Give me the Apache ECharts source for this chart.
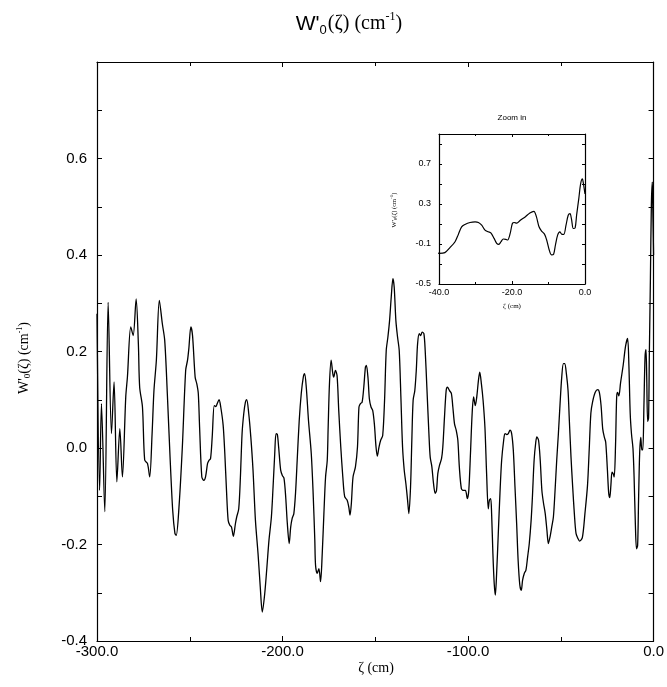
<!DOCTYPE html>
<html>
<head>
<meta charset="utf-8">
<script src="https://cdn.jsdelivr.net/npm/echarts@6/dist/echarts.min.js"></script>
<style>html,body{margin:0;padding:0;background:#fff}#c{width:667px;height:687px}</style>
</head>
<body>
<div id="c"></div>
<script>
// ζ (cm)
const zeta = [
-300.0,-298.6,-297.6,-295.8,-294.0,-292.2,-290.8,-289.3,-287.7,-286.3,-284.5,-283.6,-281.8,-280.5,-278.9,-277.7,-277.0,-275.5,-274.3,-272.8,
-271.6,-270.3,-269.3,-268.0,-266.4,-264.8,-263.5,-262.1,-260.7,-259.2,-258.0,-257.3,-255.8,-254.0,-252.2,-251.2,-250.5,-249.4,-248.5,-247.1,
-246.2,-245.4,-244.7,-243.5,-242.4,-241.5,-240.4,-239.7,-238.8,-237.9,-236.8,-236.0,-235.2,-234.2,-233.3,-232.0,-231.1,-230.2,-229.3,-228.4,
-227.5,-226.5,-225.4,-224.7,-223.6,-222.7,-221.8,-220.9,-220.0,-219.3,-218.2,-217.1,-215.9,-214.6,-213.2,-212.0,-210.9,-209.6,-208.4,-207.3,
-206.0,-205.1,-204.2,-203.5,-202.8,-202.1,-201.0,-200.1,-199.2,-198.3,-197.4,-196.4,-195.6,-194.8,-193.9,-193.0,-192.1,-191.0,-189.9,-188.8,
-188.1,-187.2,-186.0,-184.5,-183.5,-182.6,-182.2,-181.3,-180.4,-179.5,-178.6,-177.7,-176.8,-175.9,-175.4,-174.7,-173.8,-172.9,-172.4,-171.5,
-170.6,-169.7,-168.6,-167.5,-166.5,-165.2,-164.3,-163.6,-162.9,-162.0,-160.7,-159.6,-158.8,-158.0,-157.1,-156.2,-155.3,-154.8,-153.9,-153.2,
-152.3,-151.4,-150.5,-149.6,-148.9,-148.0,-147.1,-146.0,-145.0,-144.1,-143.2,-142.3,-141.4,-140.5,-139.8,-138.9,-138.0,-137.1,-136.2,-135.3,
-134.4,-133.5,-132.6,-131.9,-131.0,-130.3,-129.6,-128.7,-127.9,-127.2,-126.3,-125.6,-124.7,-123.8,-123.1,-122.2,-121.1,-120.4,-119.5,-118.6,
-117.7,-117.0,-116.3,-115.4,-114.3,-113.6,-112.7,-111.8,-111.1,-110.0,-109.0,-108.2,-107.3,-106.4,-105.5,-104.7,-103.6,-102.5,-101.4,-100.4,
-99.6,-98.7,-97.8,-97.0,-96.1,-95.3,-94.4,-93.7,-92.8,-91.9,-90.9,-90.0,-89.1,-88.5,-87.8,-87.3,-86.6,-85.9,-85.3,-84.6,
-83.7,-82.8,-81.9,-80.8,-80.1,-79.2,-78.3,-77.4,-76.5,-75.6,-74.7,-73.8,-73.0,-72.1,-71.3,-70.6,-69.7,-68.8,-67.9,-67.0,
-66.0,-65.3,-64.4,-63.5,-62.9,-62.0,-61.1,-60.2,-59.3,-58.4,-57.5,-56.7,-55.8,-54.9,-54.0,-53.1,-52.2,-51.3,-50.4,-49.5,
-48.6,-47.9,-47.0,-46.1,-45.4,-44.5,-43.6,-42.7,-41.8,-40.7,-39.9,-38.4,-37.0,-35.6,-34.7,-33.8,-32.9,-31.5,-30.1,-29.2,
-28.3,-27.4,-26.5,-25.8,-24.9,-24.2,-23.6,-23.0,-22.4,-21.7,-21.2,-20.5,-19.9,-19.4,-18.7,-17.8,-16.4,-15.1,-14.0,-13.3,
-12.6,-11.9,-11.1,-10.5,-9.8,-9.2,-8.6,-8.1,-7.5,-6.9,-6.3,-5.8,-5.2,-4.6,-4.1,-3.7,-3.2,-2.7,-2.3,-1.7,
-1.2,-0.7,-0.5,0.0
];
// W'0(ζ) (cm^-1)
const w0 = [
0.278,-0.088,0.092,-0.132,0.302,0.030,0.137,-0.070,0.040,-0.060,0.106,0.147,0.251,0.233,0.309,0.216,0.126,0.085,-0.025,-0.032,
-0.060,0.030,0.119,0.182,0.306,0.258,0.223,0.113,-0.012,-0.129,-0.177,-0.181,-0.122,0.002,0.161,0.182,0.206,0.251,0.233,0.147,
0.133,0.113,0.043,-0.060,-0.067,-0.060,-0.032,-0.026,-0.022,0.023,0.088,0.086,0.092,0.100,0.085,0.047,-0.012,-0.088,-0.150,-0.160,
-0.164,-0.183,-0.157,-0.143,-0.126,-0.060,0.030,0.071,0.095,0.100,0.071,0.023,-0.046,-0.150,-0.219,-0.288,-0.340,-0.302,-0.246,-0.191,
-0.143,-0.081,-0.012,0.030,0.028,0.002,-0.046,-0.057,-0.063,-0.101,-0.157,-0.198,-0.164,-0.146,-0.136,-0.094,-0.026,0.057,0.113,0.147,
0.154,0.126,0.057,-0.012,-0.094,-0.191,-0.243,-0.260,-0.250,-0.277,-0.219,-0.136,-0.060,-0.026,0.043,0.133,0.182,0.154,0.147,0.161,
0.150,0.078,0.002,-0.060,-0.101,-0.108,-0.122,-0.139,-0.115,-0.060,-0.039,0.002,0.085,0.092,0.095,0.126,0.168,0.171,0.144,0.102,
0.085,0.078,0.050,0.002,-0.017,0.002,0.016,0.026,0.099,0.202,0.230,0.264,0.313,0.351,0.333,0.264,0.230,0.202,0.106,0.002,
-0.046,-0.074,-0.108,-0.136,-0.081,0.016,0.099,0.119,0.161,0.216,0.237,0.233,0.240,0.237,0.202,0.126,0.030,-0.019,-0.039,-0.074,
-0.094,-0.088,-0.053,-0.036,-0.022,0.002,0.064,0.119,0.126,0.119,0.113,0.085,0.050,0.037,0.016,-0.039,-0.084,-0.088,-0.088,-0.105,
-0.088,-0.012,0.071,0.106,0.088,0.106,0.140,0.157,0.133,0.099,0.043,-0.053,-0.126,-0.108,-0.105,-0.136,-0.219,-0.281,-0.305,-0.260,
-0.177,-0.094,-0.026,0.016,0.030,0.028,0.030,0.037,0.030,-0.005,-0.081,-0.157,-0.233,-0.284,-0.295,-0.274,-0.260,-0.253,-0.226,-0.198,
-0.150,-0.101,-0.026,0.012,0.023,0.016,-0.025,-0.088,-0.115,-0.136,-0.170,-0.198,-0.184,-0.164,-0.143,-0.088,-0.025,0.030,0.092,0.147,
0.175,0.175,0.154,0.119,0.057,-0.019,-0.081,-0.136,-0.177,-0.188,-0.193,-0.186,-0.136,-0.077,-0.004,0.072,0.095,0.115,0.121,0.115,
0.088,0.039,0.022,0.012,-0.044,-0.093,-0.103,-0.077,-0.050,-0.054,-0.060,0.006,0.105,0.115,0.108,0.135,0.171,0.211,0.227,0.171,
0.072,0.029,-0.001,-0.060,-0.160,-0.209,-0.202,-0.110,-0.011,0.022,-0.004,-0.004,0.088,0.188,0.204,0.148,0.055,0.062,0.188,0.353,
0.502,0.551,0.518,0.400
];
// tick values
const mainXTicks = [-300, -200, -100, 0];
const mainYTicks = [-0.4, -0.2, 0.0, 0.2, 0.4, 0.6];
const insetXTicks = [-40, -20, 0];
const insetYTicks = [-0.5, -0.1, 0.3, 0.7];
const insetStart = -40;

const mainData = zeta.map((x, i) => [x, w0[i]]);
const insetData = mainData.filter(d => d[0] >= insetStart - 1);

const BLACK = '#000';
const SANS = 'Liberation Sans, Arial, sans-serif';
const SERIF = 'Liberation Serif, Times New Roman, serif';

function axisX(grid, pos, ticks, labelSize, show, tickLen, margin) {
  return {
    gridIndex: grid, type: 'value', position: pos,
    min: ticks[0], max: ticks[ticks.length - 1], interval: ticks[1] - ticks[0],
    axisLine: { onZero: false, lineStyle: { color: BLACK, width: 1.2 } },
    axisTick: { inside: true, length: tickLen, lineStyle: { color: BLACK, width: 1 } },
    minorTick: { show: true, splitNumber: 2, length: tickLen - 1, lineStyle: { color: BLACK, width: 1 } },
    splitLine: { show: false },
    axisLabel: { show: show, formatter: v => v.toFixed(1), color: BLACK, fontSize: labelSize, fontFamily: SANS, margin: margin }
  };
}
function axisY(grid, pos, ticks, max, labelSize, show, tickLen, margin) {
  return {
    gridIndex: grid, type: 'value', position: pos,
    min: ticks[0], max: max, interval: ticks[1] - ticks[0],
    axisLine: { onZero: false, lineStyle: { color: BLACK, width: 1.2 } },
    axisTick: { inside: true, length: tickLen, lineStyle: { color: BLACK, width: 1 } },
    minorTick: { show: true, splitNumber: 2, length: tickLen, lineStyle: { color: BLACK, width: 1 } },
    splitLine: { show: false },
    axisLabel: { show: show, showMaxLabel: false, formatter: v => v.toFixed(1), color: BLACK, fontSize: labelSize, fontFamily: SANS, margin: margin }
  };
}

const chart = echarts.init(document.getElementById('c'), null, { renderer: 'canvas' });
chart.setOption({
  backgroundColor: '#fff',
  animation: false,
  grid: [
    { left: 97, right: 12, top: 62, bottom: 46 },
    { left: 439, top: 134, width: 146, height: 150 }
  ],
  xAxis: [
    axisX(0, 'bottom', mainXTicks, 15, true, 5, 3),
    axisX(0, 'top', mainXTicks, 15, false, 5, 3),
    axisX(1, 'bottom', insetXTicks, 9, true, 3, 4),
    axisX(1, 'top', insetXTicks, 9, false, 3, 4)
  ],
  yAxis: [
    axisY(0, 'left', mainYTicks, 0.8, 15, true, 5, 10),
    axisY(0, 'right', mainYTicks, 0.8, 15, false, 5, 10),
    axisY(1, 'left', insetYTicks, 1.0, 9, true, 3, 8),
    axisY(1, 'right', insetYTicks, 1.0, 9, false, 3, 8)
  ],
  series: [
    { type: 'line', xAxisIndex: 0, yAxisIndex: 0, data: mainData, showSymbol: false, smooth: 0.3, clip: true,
      lineStyle: { color: BLACK, width: 1.3 } },
    { type: 'line', xAxisIndex: 2, yAxisIndex: 2, data: insetData, showSymbol: false, smooth: 0.3, clip: true,
      lineStyle: { color: BLACK, width: 1.2 } }
  ],
  graphic: [
    { type: 'text', x: 349, y: 24, style: {
        text: "{a|W'}{s|0}{b|(ζ) (cm}{p|-1}{b|)}", align: 'center', verticalAlign: 'middle',
        rich: {
          a: { fontFamily: SANS, fontSize: 21, lineHeight: 26, verticalAlign: 'middle', fill: BLACK },
          s: { fontFamily: SANS, fontSize: 13, lineHeight: 26, verticalAlign: 'bottom', padding: [0, 1, 0, 0], fill: BLACK },
          b: { fontFamily: SERIF, fontSize: 20, lineHeight: 26, verticalAlign: 'middle', fill: BLACK },
          p: { fontFamily: SERIF, fontSize: 12, lineHeight: 14, verticalAlign: 'top', fill: BLACK }
        } } },
    { type: 'text', x: 24, y: 358, rotation: Math.PI / 2, style: {
        text: "{b|W'}{s|0}{b|(ζ) (cm}{p|-1}{b|)}", align: 'center', verticalAlign: 'middle',
        rich: {
          b: { fontFamily: SERIF, fontSize: 14, lineHeight: 17, verticalAlign: 'middle', fill: BLACK },
          s: { fontFamily: SERIF, fontSize: 9, lineHeight: 17, verticalAlign: 'bottom', fill: BLACK },
          p: { fontFamily: SERIF, fontSize: 8, lineHeight: 8, verticalAlign: 'top', fill: BLACK }
        } } },
    { type: 'text', x: 376, y: 668, style: { text: 'ζ (cm)', fontFamily: SERIF, fontSize: 14, fill: BLACK, align: 'center', verticalAlign: 'middle' } },
    { type: 'text', x: 512, y: 118, style: { text: 'Zoom in', fontFamily: SANS, fontSize: 8, fill: BLACK, align: 'center', verticalAlign: 'middle' } },
    { type: 'text', x: 512, y: 306, style: { text: 'ζ (cm)', fontFamily: SERIF, fontSize: 7, fill: BLACK, align: 'center', verticalAlign: 'middle' } },
    { type: 'text', x: 394, y: 210, rotation: Math.PI / 2, style: {
        text: "{b|W'}{s|0}{b|(ζ) (cm}{p|-1}{b|)}", align: 'center', verticalAlign: 'middle',
        rich: {
          b: { fontFamily: SERIF, fontSize: 6.5, lineHeight: 9, verticalAlign: 'middle', fill: BLACK },
          s: { fontFamily: SERIF, fontSize: 5, lineHeight: 9, verticalAlign: 'bottom', fill: BLACK },
          p: { fontFamily: SERIF, fontSize: 5, lineHeight: 5, verticalAlign: 'top', fill: BLACK }
        } } }
  ]
});
</script>
</body>
</html>
